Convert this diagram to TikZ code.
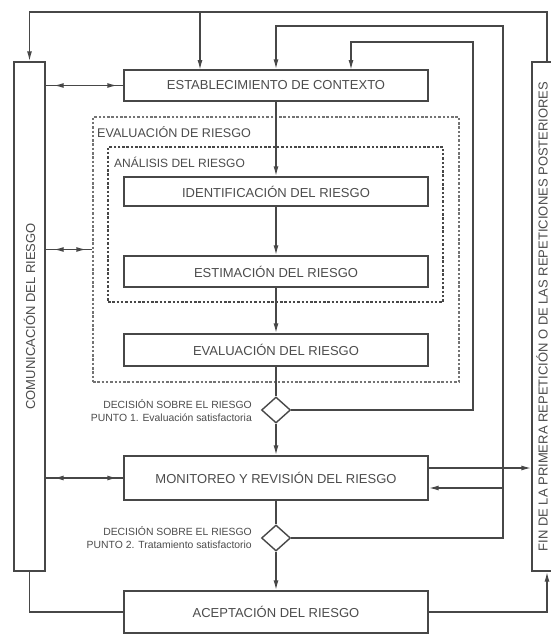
\documentclass[tikz,border=0pt]{standalone}
\usepackage{fontspec}
\setmainfont{Liberation Sans}
\usetikzlibrary{arrows.meta,decorations.markings,shapes.geometric,calc}
\begin{document}
\begin{tikzpicture}[x=1pt,y=-1pt,
  ln/.style={color=black!72, line width=1.4pt},
  tip/.style={-{Latex[length=10pt,width=5pt]}},
  dbl/.style={postaction={decorate}, decoration={markings,
      mark=at position 8pt with {\arrowreversed{Latex[length=10pt,width=5pt]}},
      mark=at position -6pt with {\arrow{Latex[length=10pt,width=5pt]}}}},
  box/.style={draw=black!72, line width=1.4pt, rectangle, inner sep=0pt,
      minimum width=304pt, text=black!70, font=\fontsize{13}{15}\selectfont},
  sidebox/.style={draw=black!72, line width=1.4pt, rectangle, inner sep=0pt,
      minimum height=509pt, text=black!70, font=\fontsize{13}{15}\selectfont},
  outerdash/.style={draw=black!55, line width=1.3pt, dash pattern=on 2.5pt off 1.8pt,
      rectangle, inner sep=0pt},
  innerdash/.style={draw=black!72, line width=1.3pt, dash pattern=on 2.5pt off 1.8pt,
      rectangle, inner sep=0pt},
  dlabel/.style={anchor=west, inner sep=0pt, text=black!70},
  decision/.style={diamond, draw=black!72, line width=1.4pt, inner sep=0pt,
      minimum width=29pt, minimum height=26pt},
  declabel/.style={anchor=east, align=right, inner sep=0pt, text=black!70,
      font=\fontsize{10.4}{13}\selectfont}
]
\path[use as bounding box, fill=white] (0,0) rectangle (551,635);

% dashed groups
\node[outerdash, minimum width=366pt, minimum height=265pt] (evalz) at (276,249.5) {};
\node[innerdash, minimum width=335pt, minimum height=155pt] (anal) at (275.5,224.5) {};
\node[dlabel, font=\fontsize{12.6}{14}\selectfont] (evallbl) at (97,132) {EVALUACIÓN DE RIESGO};
\node[dlabel, font=\fontsize{12}{14}\selectfont] (anallbl) at (114,162) {ANÁLISIS DEL RIESGO};

% main boxes
\node[box, minimum height=31pt] (estab) at (276,85.5) {ESTABLECIMIENTO DE CONTEXTO};
\node[box, minimum height=29pt] (ident) at (276,191.5) {IDENTIFICACIÓN DEL RIESGO};
\node[box, minimum height=31pt] (estim) at (276,271.5) {ESTIMACIÓN DEL RIESGO};
\node[box, minimum height=32pt] (evalr) at (276,350) {EVALUACIÓN DEL RIESGO};
\node[box, minimum height=44pt] (monit) at (276,478) {MONITOREO Y REVISIÓN DEL RIESGO};
\node[box, minimum height=42pt] (acept) at (276,612) {ACEPTACIÓN DEL RIESGO};

% side boxes
\node[sidebox, minimum width=31pt] (com) at (29.5,316.5) {\rotatebox{90}{COMUNICACIÓN DEL RIESGO}};
\node[sidebox, minimum width=20pt] (fin) at (542,316.5) {\rotatebox{90}{FIN DE LA PRIMERA REPETICIÓN O DE LAS REPETICIONES POSTERIORES}};

% decisions
\node[decision] (d1) at (276,410) {};
\node[decision] (d2) at (276,538) {};
\node[declabel] (lab1) at (252,410.5) {DECISIÓN SOBRE EL RIESGO\\PUNTO 1. Evaluación satisfactoria};
\node[declabel] (lab2) at (252,537.5) {DECISIÓN SOBRE EL RIESGO\\PUNTO 2. Tratamiento satisfactorio};

% helper coordinates
\coordinate (finT) at ($(fin.north)+(5,0)$);
\coordinate (finB) at ($(fin.south)+(5,0)$);
\coordinate (topy) at (0,12);
\coordinate (e1) at (200,70);
\coordinate (c2) at (503,26);
\coordinate (c3) at (473,42);
\coordinate (e3) at (351,70);
\coordinate (b2) at (503,488);
\coordinate (m1) at (428,468);

% top loop
\draw[ln,tip] (finT) |- (topy -| com.north) -- (com.north);
\draw[ln,tip] (e1 |- topy) -- (e1);
% loops back from decisions
\draw[ln,tip] (d2.east) -| (c2) -| (estab.north);
\draw[ln,tip] (b2) -- (b2 -| monit.east);
\draw[ln,tip] (d1.east) -| (c3) -| (e3);

% central flow
\draw[ln,tip] (estab) -- (ident);
\draw[ln,tip] (ident) -- (estim);
\draw[ln,tip] (estim) -- (evalr);
\draw[ln] (evalr) -- (d1);
\draw[ln,tip] (d1) -- (monit);
\draw[ln] (monit) -- (d2);
\draw[ln,tip] (d2) -- (acept);

% right side
\draw[ln,tip] (m1) -- (m1 -| fin.west);
\draw[ln,tip] (acept.east) -| (finB);
% left bottom
\draw[ln] (com.south) |- (acept.west);

% communication double arrows
\draw[ln,dbl] (com.east |- estab.west) -- (estab.west);
\draw[ln,dbl] (com.east |- evalz.west) -- (evalz.west);
\draw[ln,dbl] (com.east |- monit.west) -- (monit.west);
\end{tikzpicture}
\end{document}
